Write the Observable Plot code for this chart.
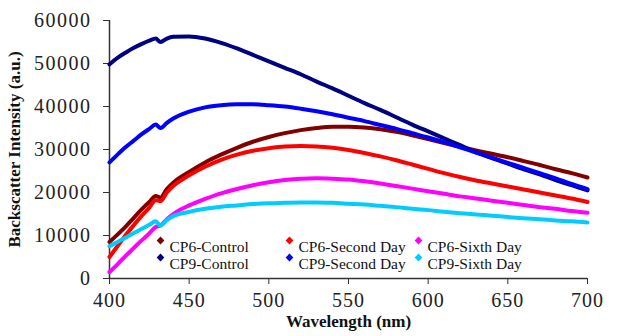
<!DOCTYPE html>
<html>
<head>
<meta charset="utf-8">
<script src="https://cdn.jsdelivr.net/npm/d3@7"></script>
<script src="https://cdn.jsdelivr.net/npm/@observablehq/plot@0.6"></script>
<style>
  html, body { margin: 0; padding: 0; background: #fff; }
  g[aria-label="y-axis tick label"] text { letter-spacing: 1.5px; }
  g[aria-label="x-axis tick label"] text { letter-spacing: 1px; }
</style>
</head>
<body>
<div id="chart"></div>
<script>
const wavelengths = [400,405,410,415,420,425,429,432,436,440,450,460,470,480,490,500,510,520,530,540,550,560,570,580,590,600,610,620,630,640,650,660,670,680,690,700];

const cp6Control   = [8500,10200,12000,14000,16000,17800,19200,18800,20800,22300,24800,27000,28800,30400,31800,32900,33800,34500,35000,35300,35300,35100,34700,34100,33300,32400,31500,30600,29800,29000,28200,27300,26400,25400,24500,23500];
const cp6SecondDay = [5000,7500,10000,12300,14500,16500,18200,18000,20000,21500,24000,26000,27600,28800,29700,30300,30700,30800,30700,30400,29900,29200,28400,27500,26500,25500,24500,23600,22800,22100,21400,20700,20000,19300,18600,17800];
const cp6SixthDay  = [1500,3300,5200,7000,8800,10500,12000,12300,13800,15000,17000,18500,19800,20800,21700,22400,22900,23200,23300,23200,23000,22600,22100,21500,20900,20300,19700,19100,18600,18100,17600,17100,16600,16200,15700,15300];
const cp9Control   = [49800,51300,52500,53600,54500,55300,55800,55000,55800,56200,56300,55800,54800,53500,52000,50500,49000,47500,45800,44200,42500,40800,39200,37500,35800,34200,32600,31000,29400,28000,26700,25400,24200,22900,21700,20500];
const cp9SecondDay = [27000,28800,30500,32000,33500,34800,35800,35000,36200,37200,38800,39800,40300,40500,40500,40300,40000,39500,38900,38200,37400,36600,35700,34800,33800,32800,31700,30500,29300,28100,26900,25700,24500,23300,22000,20800];
const cp9SixthDay  = [7500,8500,9500,10500,11500,12500,13300,12300,13600,14500,15500,16200,16700,17000,17300,17500,17600,17700,17700,17600,17400,17200,16900,16600,16200,15900,15500,15200,14900,14600,14300,14000,13800,13500,13300,13000];

const seriesNames  = ["CP6-Control","CP6-Second Day","CP6-Sixth Day","CP9-Control","CP9-Second Day","CP9-Sixth Day"];
const seriesColors = ["#800000","#ff0000","#ff00ff","#000080","#0000ff","#00ccff"];
const seriesValues = [cp6Control, cp6SecondDay, cp6SixthDay, cp9Control, cp9SecondDay, cp9SixthDay];

const xTicks = [400,450,500,550,600,650,700];
const yTicks = [0,10000,20000,30000,40000,50000,60000];
const xTitle = "Wavelength (nm)";
const yTitle = "Backscatter Intensity (a.u.)";

const rows = [];
seriesNames.forEach((name, i) => {
  wavelengths.forEach((w, j) => rows.push({series: name, wavelength: w, value: seriesValues[i][j]}));
});

const legendMarks = [];
seriesNames.forEach((name, i) => {
  const col = i % 3, row = Math.floor(i / 3);
  legendMarks.push(Plot.dot([name], {frameAnchor: "top-left", dx: 51 + col * 129, dy: 220 + row * 17, symbol: "diamond2", r: 3.5, fill: seriesColors[i], stroke: null}));
  legendMarks.push(Plot.text([name], {frameAnchor: "top-left", dx: 60 + col * 129, dy: 220 + row * 17, text: d => d, textAnchor: "start", fontSize: 15.5, fill: "#111"}));
});

const chart = Plot.plot({
  width: 623,
  height: 336,
  marginLeft: 109,
  marginRight: 36,
  marginTop: 20,
  marginBottom: 58,
  style: {fontFamily: "'Liberation Serif', 'Times New Roman', serif", background: "#fff", color: "#222"},
  x: {domain: [400, 700]},
  y: {domain: [0, 60000]},
  color: {domain: seriesNames, range: seriesColors},
  marks: [
    Plot.axisY({ticks: yTicks, tickSize: 6, tickPadding: 12, fontSize: 20, tickFormat: d3.format("d"), label: null, stroke: "#333"}),
    Plot.axisX({ticks: xTicks, tickSize: 6, tickPadding: 8, fontSize: 20, label: null, stroke: "#333"}),
    Plot.ruleX([400], {stroke: "#333", strokeWidth: 1.5}),
    Plot.ruleY([0], {stroke: "#333", strokeWidth: 1.5}),
    Plot.line(rows, {x: "wavelength", y: "value", z: "series", stroke: "series", strokeWidth: 4, curve: "monotone-x"}),
    Plot.text([yTitle], {frameAnchor: "left", dx: -95, rotate: -90, textAnchor: "middle", fontWeight: "bold", fontSize: 17, fill: "#111"}),
    Plot.text([xTitle], {frameAnchor: "bottom", dy: 48, textAnchor: "middle", fontWeight: "bold", fontSize: 17, fill: "#111"}),
    ...legendMarks
  ]
});
document.getElementById("chart").appendChild(chart);
</script>
</body>
</html>
